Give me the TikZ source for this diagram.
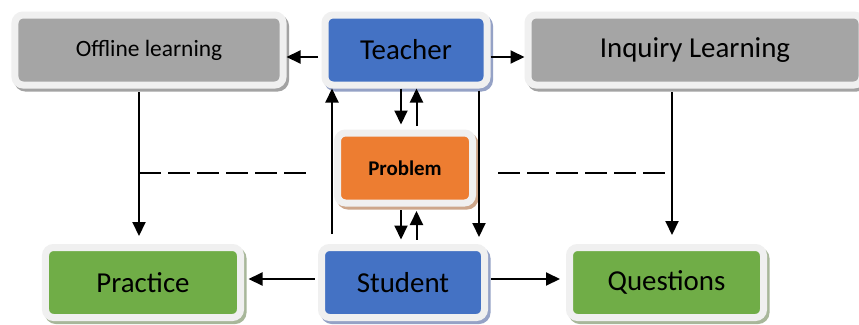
\documentclass[tikz,border=0pt]{standalone}
\usepackage{fontspec}
\setmainfont{Carlito}
\usetikzlibrary{arrows.meta,calc}

\definecolor{fillblue}{HTML}{4472C4}
\definecolor{fillgrey}{HTML}{A5A5A5}
\definecolor{fillorange}{HTML}{ED7D31}
\definecolor{fillgreen}{HTML}{70AD47}
\definecolor{shadeblue}{HTML}{95A2C6}
\definecolor{shadegrey}{HTML}{A3A3A3}
\definecolor{shadeorange}{HTML}{CDA68A}
\definecolor{shadegreen}{HTML}{A8B79A}
\definecolor{framecol}{HTML}{F0F0F0}

\tikzset{
  card/.style 2 args={
    rectangle, rounded corners=8bp, draw=framecol, line width=7bp,
    fill=#1, minimum height=70bp, inner sep=0pt, text=black,
    font=\fontsize{29}{33}\selectfont,
    preaction={draw=#2, fill=#2, transform canvas={xshift=2.5bp, yshift=-3bp}}
  },
  link/.style={line width=2bp, -{Triangle[length=14bp,width=13bp]}},
  dashline/.style={line width=1.3bp, dash pattern=on 22bp off 7bp}
}

\begin{document}
\begin{tikzpicture}[x=1bp, y=-1bp]
  \clip (0,0) rectangle (859,324);
  \fill[white] (0,0) rectangle (859,324);

  % column positions of the vertical connectors
  \coordinate (xdn) at (401,0);
  \coordinate (xup) at (416.5,0);
  \coordinate (xleft) at (332,0);
  \coordinate (xright) at (479,0);
  \coordinate (xoff) at (139,0);
  \coordinate (xinq) at (672,0);
  \coordinate (dashL) at (312,173);
  \coordinate (dashR) at (498,173);

  % boxes
  \node[card={fillgrey}{shadegrey}, minimum width=268bp,
        font=\fontsize{23.5}{27}\selectfont] (off) at (149,50) {Offline learning};
  \node[card={fillblue}{shadeblue}, minimum width=162bp] (tea) at (406,50) {Teacher};
  \node[card={fillgrey}{shadegrey}, minimum width=334bp] (inq) at (695,50) {Inquiry Learning};
  \node[card={fillorange}{shadeorange}, minimum width=135bp,
        font=\bfseries\fontsize{21}{25}\selectfont] (pro) at (405,168) {Problem};
  \node[card={fillgreen}{shadegreen}, minimum width=195bp] (pra) at (143,282.5) {Practice};
  \node[card={fillblue}{shadeblue}, minimum width=163bp] (stu) at (403,282.5) {Student};
  \node[card={fillgreen}{shadegreen}, minimum width=194bp] (que) at (666.5,282.5) {Questions};

  % teacher to the learning modes
  \draw[link] ($(tea.west)+(-3.5,7)$) -- ($(off.east)+(0,7)$);
  \draw[link] ($(tea.east)+(0,7)$) -- ($(inq.west)+(0,7)$);

  % teacher <-> problem <-> student
  \draw[link] (tea.south -| xdn) -- ($(pro.north -| xdn)+(0,-5)$);
  \draw[link] ($(pro.north -| xup)+(0,-3.5)$) -- (tea.south -| xup);
  \draw[link] ($(pro.south -| xdn)+(0,3.5)$) -- ($(stu.north -| xdn)+(0,-4.5)$);
  \draw[link] ($(stu.north -| xup)+(0,-4.5)$) -- ($(pro.south -| xup)+(0,4.5)$);

  % direct teacher <-> student links
  \draw[link] ($(stu.north -| xleft)+(0,-10)$) -- (tea.south -| xleft);
  \draw[link] ($(tea.south -| xright)+(0,2)$) -- ($(stu.north -| xright)+(0,-7)$);

  % learning modes to outcomes
  \draw[link] ($(off.south -| xoff)+(0,3.5)$) -- ($(pra.north -| xoff)+(0,-8)$);
  \draw[link] ($(inq.south -| xinq)+(0,3.5)$) -- ($(que.north -| xinq)+(0,-9)$);

  % student to outcomes
  \draw[link] ($(stu.west)+(-3.5,-3.5)$) -- ($(pra.east)+(4.5,-3.5)$);
  \draw[link] ($(stu.east)+(3,-3.5)$) -- ($(que.west)+(-6,-3.5)$);

  % dashed cross links
  \draw[dashline] (dashL -| xoff) -- (dashL);
  \draw[dashline] (dashR) -- (dashR -| xinq);
\end{tikzpicture}
\end{document}
